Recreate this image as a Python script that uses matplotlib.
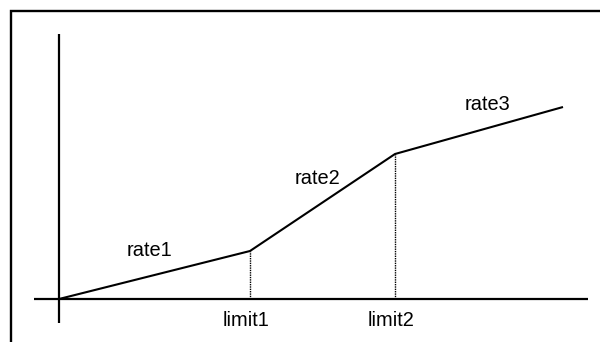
import matplotlib
matplotlib.use("Agg")
import matplotlib.pyplot as plt
from matplotlib.patches import Rectangle

# Piecewise-linear schedule (arbitrary units)
x_points = [0, 191, 336, 504]        # origin, limit1, limit2, end
y_points = [0, 48, 145, 192]
limit_labels = ["limit1", "limit2"]
rate_labels = ["rate1", "rate2", "rate3"]
rate_label_pos = [(91, 49), (259, 121), (428, 194)]

W, H = 600, 342
fig = plt.figure(figsize=(W / 100, H / 100), dpi=100)
ax = fig.add_axes([0, 0, 1, 1])
ax.set_xlim(-59, W - 59)
ax.set_ylim(-(H - 299), 299)
ax.axis("off")

# outer frame (figure pixels)
fig.patches.append(Rectangle((11 / W, -0.1), 1.2, (H - 11) / H + 0.1,
                             transform=fig.transFigure, fill=False,
                             edgecolor="black", linewidth=1.7))

# axes lines
ax.hlines(0, -25, 529, color="black", linewidth=1.6)
ax.vlines(0, -24, 265, color="black", linewidth=1.6)

# main curve
ax.plot(x_points, y_points, color="black", linewidth=1.5, solid_capstyle="butt")

# dotted drops at limits
for xv, yv in zip(x_points[1:3], y_points[1:3]):
    ax.vlines(xv, 0, yv, color="black", linewidth=1.0, linestyles=(0, (1, 0.7)))

font = dict(family="Liberation Sans", fontsize=14.4)
for xv, lab in zip(x_points[1:3], limit_labels):
    ax.text(xv - 4, -22, lab, ha="center", va="center", **font)
for (tx, ty), lab in zip(rate_label_pos, rate_labels):
    ax.text(tx, ty, lab, ha="center", va="center", **font)

fig.savefig("out.png", dpi=100)
